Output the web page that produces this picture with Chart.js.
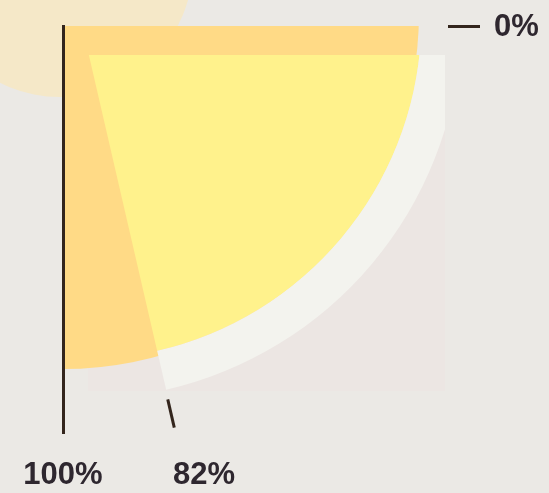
<!DOCTYPE html>
<html>
<head>
<meta charset="utf-8">
<script src="https://cdn.jsdelivr.net/npm/chart.js@4.4.1/dist/chart.umd.min.js"></script>
<style>
  html, body { margin: 0; padding: 0; background: #EBE9E5; }
  #stage { position: relative; width: 549px; height: 493px; overflow: hidden; }
  .sun { position: absolute; left: -73px; top: -169px; width: 266px; height: 266px;
         border-radius: 50%; background: #F5E8C8; }
  .panel { position: absolute; left: 88px; top: 55px; width: 357px; height: 336px; background: #ECE6E3; }
  .clip { position: absolute; overflow: hidden; }
  .clip canvas { position: absolute; }
  .rule { position: absolute; background: #33251C; }
  .lbl { position: absolute; font: bold 31px "Liberation Sans", Arial, sans-serif;
         line-height: 31px; color: #2E272F; white-space: nowrap; }
</style>
</head>
<body>
<div id="stage">
  <div class="sun"></div>
  <div class="panel"></div>
  <div class="clip" id="frameClip" style="left:63px;top:26px;width:486px;height:467px">
    <canvas id="frameChart" width="800" height="800"></canvas>
  </div>
  <div class="clip" id="shareClip" style="left:88px;top:55px;width:357px;height:336px">
    <canvas id="shareChart" width="900" height="900"></canvas>
  </div>
  <div class="rule" style="left:62px;top:25px;width:2.5px;height:409px"></div>
  <div class="rule" style="left:448px;top:25px;width:32px;height:2.5px"></div>
  <div class="rule" id="shareTick"></div>
  <div class="lbl" id="lblZero" style="left:494px;top:10px"></div>
  <div class="lbl" id="lblShare" style="left:173px;top:458px"></div>
  <div class="lbl" id="lblFull" style="left:3px;top:458px;width:120px;text-align:center"></div>
</div>
<script>
const frameLabels = ['Whole'];
const frameValues = [100];
const shareLabels = ['Share', 'Rest'];
const shareValues = [82, 18];
const tickLabels = ['0%', '82%', '100%'];

// where each quarter's centre sits on the page, and its radii
const FRAME = { cx: 63, cy: 13, r: 356 };
const SHARE = { cx: 80, cy: 18, r: 381, inner: 341 };

function quarterOptions(radius, rotation) {
  return {
    responsive: false,
    animation: false,
    events: [],
    rotation: rotation,
    circumference: 90,
    radius: radius,
    cutout: 0,
    layout: { padding: 0 },
    plugins: { legend: { display: false }, tooltip: { enabled: false } },
  };
}

// shift the canvas inside its clip box so the arc centre lands on the page spot
function placeChart(chart, clipId, centre) {
  const arc = chart.getDatasetMeta(0).data[0];
  const clip = document.getElementById(clipId);
  chart.canvas.style.left = (centre.cx - clip.offsetLeft - arc.x) + 'px';
  chart.canvas.style.top = (centre.cy - clip.offsetTop - arc.y) + 'px';
}

const frameChart = new Chart(document.getElementById('frameChart'), {
  type: 'doughnut',
  data: {
    labels: frameLabels,
    datasets: [{ data: frameValues, backgroundColor: ['#FFDA86'], borderWidth: 0 }],
  },
  options: quarterOptions(FRAME.r, 90),
});
placeChart(frameChart, 'frameClip', FRAME);

const shareChart = new Chart(document.getElementById('shareChart'), {
  type: 'doughnut',
  data: {
    labels: shareLabels,
    datasets: [
      {
        data: shareValues,
        backgroundColor: ['#F3F3EE', 'rgba(0,0,0,0)'],
        borderWidth: 0,
        weight: SHARE.r - SHARE.inner,
      },
      {
        data: shareValues,
        backgroundColor: ['#FFF28C', 'rgba(0,0,0,0)'],
        borderWidth: 0,
        weight: SHARE.inner,
      },
    ],
  },
  options: quarterOptions(SHARE.r, 93.2),
});
placeChart(shareChart, 'shareClip', SHARE);

// tick on the share's edge, pointing out from its centre
const endAngle = shareChart.getDatasetMeta(1).data[0].endAngle;
const tick = document.getElementById('shareTick');
const r1 = 391, r2 = 420;
tick.style.left = (SHARE.cx + r1 * Math.cos(endAngle)) + 'px';
tick.style.top = (SHARE.cy + r1 * Math.sin(endAngle) - 1.25) + 'px';
tick.style.width = (r2 - r1) + 'px';
tick.style.height = '2.5px';
tick.style.transformOrigin = '0 50%';
tick.style.transform = 'rotate(' + endAngle + 'rad)';

document.getElementById('lblZero').textContent = tickLabels[0];
document.getElementById('lblShare').textContent = tickLabels[1];
document.getElementById('lblFull').textContent = tickLabels[2];
</script>
</body>
</html>
